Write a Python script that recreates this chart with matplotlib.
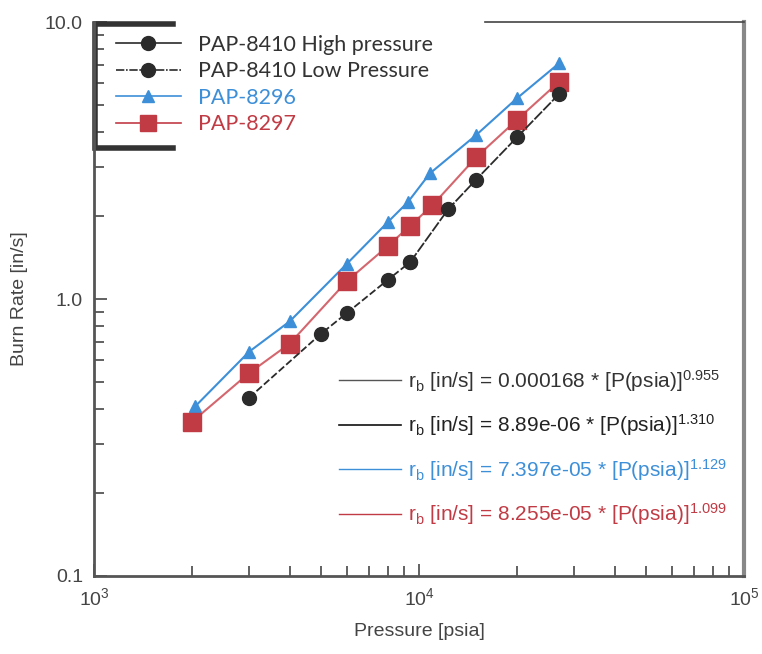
import matplotlib
matplotlib.use("Agg")
import matplotlib.pyplot as plt
from matplotlib.lines import Line2D
from matplotlib.ticker import FixedLocator, FuncFormatter, LogLocator, NullFormatter

plt.rcParams["font.family"] = ["Liberation Sans", "DejaVu Sans"]
plt.rcParams["mathtext.fontset"] = "custom"
plt.rcParams["mathtext.rm"] = "Liberation Sans"
plt.rcParams["mathtext.it"] = "Liberation Sans:italic"

# PAP-8410, black circles
p_low = [3000, 5000, 6000, 8000, 9400]
r_low = [0.44, 0.75, 0.89, 1.17, 1.36]
p_high = [9400, 12300, 15000, 20000, 27000]
r_high = [1.36, 2.11, 2.70, 3.83, 5.50]

# PAP-8296, blue triangles
p_8296 = [2050, 3000, 4000, 6000, 8000, 9250, 10800, 15000, 20000, 27000]
r_8296 = [0.41, 0.645, 0.83, 1.34, 1.89, 2.24, 2.84, 3.91, 5.30, 7.10]

# PAP-8297, red squares
p_8297 = [2000, 3000, 4000, 6000, 8000, 9400, 11000, 15000, 20000, 27000]
r_8297 = [0.36, 0.54, 0.69, 1.16, 1.55, 1.84, 2.18, 3.25, 4.43, 6.09]

fit_labels = [
    r"r$_\mathregular{b}$ [in/s] = 0.000168 * [P(psia)]$^\mathregular{0.955}$",
    r"r$_\mathregular{b}$ [in/s] = 8.89e-06 * [P(psia)]$^\mathregular{1.310}$",
    r"r$_\mathregular{b}$ [in/s] = 7.397e-05 * [P(psia)]$^\mathregular{1.129}$",
    r"r$_\mathregular{b}$ [in/s] = 8.255e-05 * [P(psia)]$^\mathregular{1.099}$",
]

BLUE = "#3d8fd8"
RED = "#c13b45"
DARK = "#2b2b2b"

fig = plt.figure(figsize=(7.62, 6.54), dpi=100)
ax = fig.add_axes([94 / 762, 1 - 576 / 654, 650 / 762, 554 / 654])

ax.plot(p_8296, r_8296, color=BLUE, lw=1.5, marker="^", ms=9, mfc=BLUE, mec=BLUE)
ax.plot(p_8297, r_8297, color="#d4666e", lw=1.5, marker="s", ms=13, mfc=RED, mec=RED)
ax.plot(p_low, r_low, color=DARK, lw=1.3, ls=(0, (4, 1.5)), marker="o", ms=10, mfc=DARK, mec=DARK)
ax.plot(p_high, r_high, color=DARK, lw=1.3, ls=(0, (6, 1)), marker="o", ms=10, mfc=DARK, mec=DARK)

ax.set_xscale("log")
ax.set_yscale("log")
ax.set_xlim(1e3, 1e5)
ax.set_ylim(0.1, 10)

ax.yaxis.set_major_locator(FixedLocator([0.1, 1, 10]))
ax.yaxis.set_major_formatter(FuncFormatter(lambda v, pos: f"{v:.1f}"))
ax.yaxis.set_minor_locator(LogLocator(base=10, subs=range(2, 10)))
ax.yaxis.set_minor_formatter(NullFormatter())
ax.xaxis.set_minor_locator(LogLocator(base=10, subs=range(2, 10)))
ax.xaxis.set_minor_formatter(NullFormatter())

ax.tick_params(which="both", direction="in", colors="#555555", labelcolor="#444444",
               labelsize=14, top=False, right=False)
ax.tick_params(which="major", length=9, width=1.3)
ax.tick_params(which="minor", length=7, width=1.3)
ax.tick_params(axis="x", pad=8)
ax.tick_params(axis="y", pad=8)

for side in ["left", "bottom"]:
    ax.spines[side].set_color("#555555")
    ax.spines[side].set_linewidth(2)
ax.spines["right"].set_color("#888888")
ax.spines["right"].set_linewidth(3)
ax.spines["top"].set_color("#444444")
ax.spines["top"].set_linewidth(1.2)
ax.spines["top"].set_bounds(10 ** (3 + 391 / 325), 1e5)

ax.set_xlabel("Pressure [psia]", fontsize=14, color="#444444", labelpad=10)
ax.set_ylabel("Burn Rate [in/s]", fontsize=14, color="#444444", labelpad=12)

# series legend
handles1 = [
    Line2D([], [], color=DARK, lw=1.2, marker="o", ms=10),
    Line2D([], [], color=DARK, lw=1.2, ls=(0, (5, 1, 1, 1)), marker="o", ms=10),
    Line2D([], [], color=BLUE, lw=1.2, marker="^", ms=9),
    Line2D([], [], color=RED, lw=1.2, marker="s", ms=12),
]
labels1 = ["PAP-8410 High pressure", "PAP-8410 Low Pressure", "PAP-8296", "PAP-8297"]
leg1 = ax.legend(handles1, labels1, loc="upper left", bbox_to_anchor=(0.004, 1.012),
                 frameon=False, handlelength=3.0, handletextpad=0.8, labelspacing=0.3,
                 prop={"family": "Lato", "size": 15.5})
for t, c in zip(leg1.get_texts(), ["#333333", "#333333", BLUE, RED]):
    t.set_color(c)
ax.add_artist(leg1)

# bracket round the series legend
bx = [173 / 650 - 94 / 650, 1 / 650, 1 / 650, 173 / 650 - 94 / 650]
by = [(576 - 24) / 554, (576 - 24) / 554, (576 - 148) / 554, (576 - 148) / 554]
ax.plot(bx, by, transform=ax.transAxes, color="#333333", lw=4, clip_on=False,
        solid_joinstyle="miter")

# fit legend
handles2 = [
    Line2D([], [], color="#555555", lw=1),
    Line2D([], [], color="#111111", lw=1.2),
    Line2D([], [], color=BLUE, lw=1),
    Line2D([], [], color=RED, lw=1),
]
leg2 = ax.legend(handles2, fit_labels, loc="upper left", bbox_to_anchor=(0.348, 0.41),
                 frameon=False, handlelength=3.0, handletextpad=0.3, labelspacing=0.9,
                 fontsize=15)
for t, c in zip(leg2.get_texts(), ["#333333", "#222222", BLUE, RED]):
    t.set_color(c)

fig.savefig("out.png", dpi=100)
